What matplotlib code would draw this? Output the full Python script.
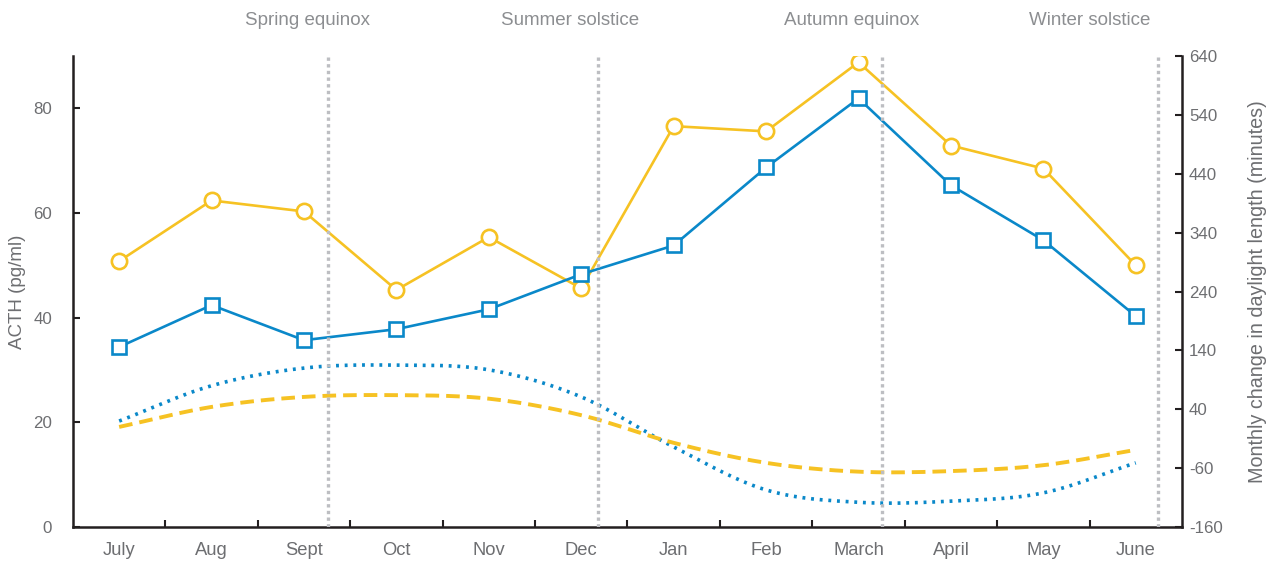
import numpy as np
import matplotlib
matplotlib.use("Agg")
import matplotlib.pyplot as plt

plt.rcParams["font.family"] = ["Liberation Sans", "DejaVu Sans"]
plt.rcParams["axes.unicode_minus"] = False

months = ["July", "Aug", "Sept", "Oct", "Nov", "Dec",
          "Jan", "Feb", "March", "April", "May", "June"]

# ACTH (pg/ml)
acth_circles = [50.8, 62.4, 60.3, 45.3, 55.4, 45.6, 76.6, 75.6, 88.8, 72.9, 68.5, 50.0]
acth_squares = [34.4, 42.4, 35.7, 37.8, 41.6, 48.3, 53.8, 68.7, 81.9, 65.3, 54.8, 40.3]

# monthly change in daylight length (minutes), right axis
daylight_dotted = [20, 80, 110, 115, 107, 61, -24, -97, -118, -116, -102, -51]
daylight_dashed = [10, 44, 61, 64, 58, 30, -17, -51, -66, -65, -55, -29]

events = ["Spring equinox", "Summer solstice", "Autumn equinox", "Winter solstice"]
event_pos = [2.26, 5.18, 8.25, 11.24]
event_label_pos = [2.04, 4.88, 7.93, 10.5]

yellow = "#F6C223"
blue = "#0A88C9"
grey_txt = "#6D6E71"
grey_evt = "#8C8E91"
grey_line = "#BDBEC2"
spine_c = "#231F20"


def smooth(y, n=20):
    # catmull-rom curve through the points (like a "smoothed line" in a spreadsheet)
    y = np.asarray(y, dtype=float)
    x = np.arange(len(y), dtype=float)
    p = np.concatenate([[2 * y[0] - y[1]], y, [2 * y[-1] - y[-2]]])
    xs, ys = [], []
    for i in range(len(y) - 1):
        t = np.linspace(0, 1, n, endpoint=False)
        p0, p1, p2, p3 = p[i], p[i + 1], p[i + 2], p[i + 3]
        yy = 0.5 * ((2 * p1) + (-p0 + p2) * t + (2 * p0 - 5 * p1 + 4 * p2 - p3) * t ** 2
                    + (-p0 + 3 * p1 - 3 * p2 + p3) * t ** 3)
        xs.append(x[i] + t)
        ys.append(yy)
    xs.append([x[-1]])
    ys.append([y[-1]])
    return np.concatenate(xs), np.concatenate(ys)


fig = plt.figure(figsize=(12.73, 5.63), dpi=100)
ax = fig.add_axes([0.0573, 0.0639, 0.8712, 0.8366])
ax2 = ax.twinx()

x = np.arange(len(months))

# daylight curves
xd, yd = smooth(daylight_dotted)
ax2.plot(xd, yd, color=blue, lw=2.6, linestyle=(0, (0.8, 1.6)), zorder=2)
xd, yd = smooth(daylight_dashed)
ax2.plot(xd, yd, color=yellow, lw=2.8, linestyle=(0, (3.5, 1.8)), zorder=2)

# ACTH series
ax.plot(x, acth_circles, color=yellow, lw=1.9, marker="o", ms=11,
        mfc="white", mec=yellow, mew=1.9, zorder=3)
ax.plot(x, acth_squares, color=blue, lw=1.9, marker="s", ms=10,
        mfc="white", mec=blue, mew=1.9, zorder=4)

ax.set_xlim(-0.5, 11.5)
ax.set_ylim(0, 90)
ax2.set_ylim(-160, 640)
ax.set_yticks([0, 20, 40, 60, 80])
ax2.set_yticks([-160, -60, 40, 140, 240, 340, 440, 540, 640])

# equinox / solstice markers
for pos, lab, lpos in zip(event_pos, events, event_label_pos):
    ax2.axvline(pos, color=grey_line, lw=2.4, linestyle=(0, (1, 1)), zorder=5)
    ax2.text(lpos, 1.076, lab, transform=ax2.get_xaxis_transform(),
             ha="center", va="center", fontsize=13.5, color=grey_evt)

ax.set_xticks(x)
ax.set_xticklabels(months)
ax.set_xticks(np.arange(0.5, 11.0, 1.0), minor=True)
ax.tick_params(axis="x", which="major", length=0, pad=11, labelsize=13.2, labelcolor=grey_txt)
ax.tick_params(axis="x", which="minor", direction="in", length=5, width=1.5, color=spine_c)
ax.tick_params(axis="y", direction="in", length=5, width=1.5, color=spine_c,
               pad=15, labelsize=12.2, labelcolor=grey_txt)
ax2.tick_params(axis="y", direction="in", length=5, width=1.5, color=spine_c,
                pad=5, labelsize=12.2, labelcolor=grey_txt)

for a in (ax, ax2):
    a.spines["top"].set_visible(False)
    for s in ("left", "right", "bottom"):
        a.spines[s].set_color(spine_c)
        a.spines[s].set_linewidth(1.8)
ax.spines["right"].set_visible(False)
ax2.spines["left"].set_visible(False)
ax2.spines["bottom"].set_visible(False)

ax.set_ylabel("ACTH (pg/ml)", fontsize=13.5, color=grey_txt)
ax.yaxis.set_label_coords(-0.0424, 0.5)
ax2.set_ylabel("Monthly change in daylight length (minutes)", fontsize=14.2, color=grey_txt)
ax2.yaxis.set_label_coords(1.0595, 0.5)

fig.savefig("out.png", dpi=100)
